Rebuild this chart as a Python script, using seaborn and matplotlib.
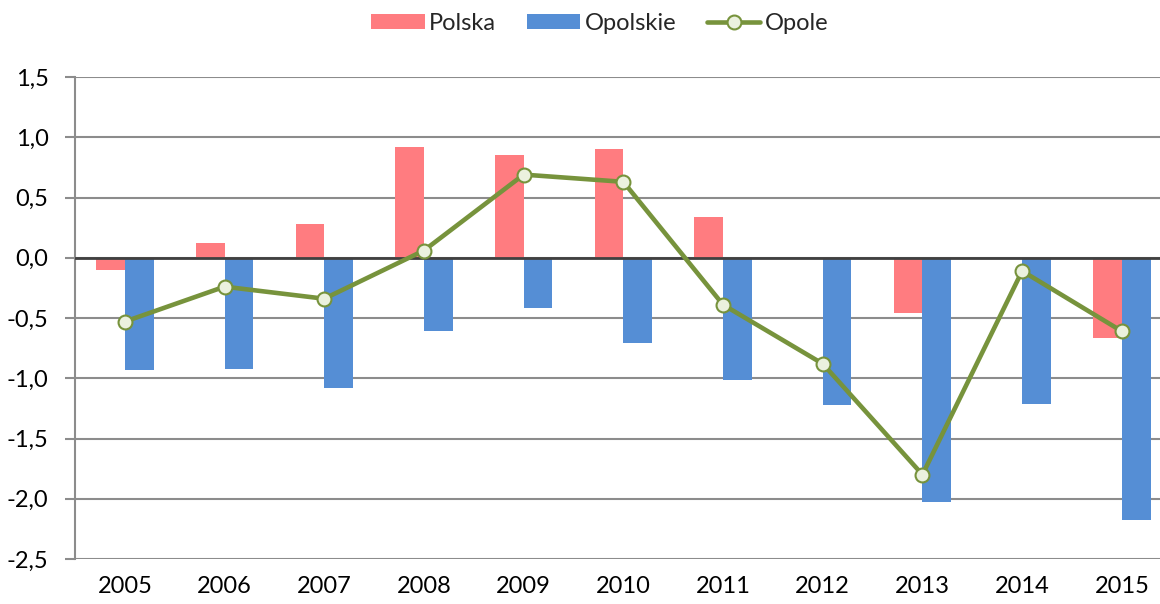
import numpy as np
import pandas as pd
import matplotlib
matplotlib.use("Agg")
import matplotlib.pyplot as plt
from matplotlib.ticker import FuncFormatter, MultipleLocator
import seaborn as sns

years = ["2005", "2006", "2007", "2008", "2009", "2010", "2011", "2012", "2013", "2014", "2015"]
polska = [-0.10, 0.12, 0.28, 0.92, 0.85, 0.90, 0.335, 0.0, -0.46, 0.0, -0.665]
opolskie = [-0.93, -0.92, -1.085, -0.61, -0.42, -0.705, -1.015, -1.22, -2.03, -1.21, -2.18]
opole = [-0.53, -0.24, -0.34, 0.06, 0.69, 0.63, -0.39, -0.88, -1.80, -0.11, -0.61]

sns.set_theme(style="white")
plt.rcParams["font.family"] = ["Lato", "DejaVu Sans"]

bars = pd.DataFrame({
    "year": years * 2,
    "value": polska + opolskie,
    "series": ["Polska"] * len(years) + ["Opolskie"] * len(years),
})
line = pd.DataFrame({"year": years, "value": opole})

fig = plt.figure(figsize=(11.6, 6.04), dpi=100)
ax = fig.add_axes([75 / 1160, 1 - 559 / 604, (1160 - 75) / 1160, (559 - 77) / 604])

sns.barplot(data=bars, x="year", y="value", hue="series", order=years,
            hue_order=["Polska", "Opolskie"],
            palette={"Polska": "#FF7C80", "Opolskie": "#558ED5"},
            width=0.575, gap=0, ax=ax, legend=True, edgecolor="none",
            saturation=1)

sns.pointplot(data=line, x="year", y="value", order=years, color="#77933C",
              markers="o", linestyles="-", label="Opole", ax=ax,
              markersize=10, linewidth=3.3, markerfacecolor="#EBF1DE",
              markeredgecolor="#77933C", markeredgewidth=1.5, zorder=5)

ax.set_ylim(-2.5, 1.5)
ax.set_xlim(-0.5, -0.5 + (1160 - 75) / 99.7)
ax.yaxis.set_major_locator(MultipleLocator(0.5))
ax.yaxis.set_major_formatter(FuncFormatter(lambda v, p: f"{v:.1f}".replace(".", ",")))

ax.grid(axis="y", color="#8C8C8C", linewidth=1.5)
ax.set_axisbelow(True)
ax.axhline(0, color="#404040", linewidth=2, zorder=3)

for s in ["top", "right", "bottom"]:
    ax.spines[s].set_visible(False)
ax.spines["left"].set_color("#8C8C8C")
ax.spines["left"].set_linewidth(1.5)

ax.tick_params(axis="y", which="major", length=7, width=1.5, color="#8C8C8C",
               left=True, labelsize=17, pad=12, labelcolor="black")
ax.tick_params(axis="x", length=0, labelsize=17, pad=12, labelcolor="black")
ax.set_xlabel("")
ax.set_ylabel("")

handles, labels = ax.get_legend_handles_labels()
order = ["Polska", "Opolskie", "Opole"]
hmap = dict(zip(labels, handles))
ax.legend([hmap[k] for k in order], order, loc="center", ncol=3,
          bbox_to_anchor=(600 / 1160, 1 - 23 / 604), bbox_transform=fig.transFigure,
          frameon=False, fontsize=17, handlelength=2.25, handleheight=0.6,
          columnspacing=1.3, handletextpad=0.2, numpoints=1)

fig.savefig("out.png", dpi=100)
